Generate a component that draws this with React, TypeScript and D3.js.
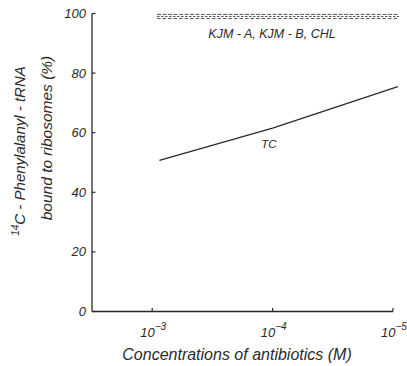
import React from "react";
import * as d3 from "d3";

const yTicks = [0, 20, 40, 60, 80, 100];
const xTickExps = [-3, -4, -5];
const tcLogConc = [-3.06, -4, -5.04];
const tcBound = [50.7, 61.5, 75.5];
const flatLogConc = [-3.04, -5.05];
const kjmA = [99.7, 99.7];
const kjmB = [99.0, 99.0];
const chl = [98.3, 98.3];

const W = 407;
const H = 366;
const FONT = "'Liberation Sans', Arial, sans-serif";
const INK = "#2a2a2a";

export default function App() {
  const x = d3.scaleLinear().domain([-2.5, -5]).range([92, 393]);
  const y = d3.scaleLinear().domain([0, 100]).range([311.5, 13.5]);
  const line = d3
    .line<[number, number]>()
    .x((d) => x(d[0]))
    .y((d) => y(d[1]));

  const tcPts = tcLogConc.map((c, i) => [c, tcBound[i]] as [number, number]);
  const flatSeries = [
    { vals: kjmA, dash: "4 1.5" },
    { vals: kjmB, dash: "2.5 1.5" },
    { vals: chl, dash: "3.5 2" },
  ];

  return (
    <svg
      width={W}
      height={H}
      style={{ position: "absolute", left: 0, top: 0, background: "#fff" }}
    >
      <rect width={W} height={H} fill="#fff" />
      {/* axes */}
      <line x1={x(-2.5)} x2={x(-2.5)} y1={y(0)} y2={y(100)} stroke={INK} strokeWidth={1.3} />
      <line x1={x(-2.5)} x2={x(-5)} y1={y(0)} y2={y(0)} stroke={INK} strokeWidth={1.3} />
      {yTicks.map((t) => (
        <g key={t}>
          <line x1={x(-2.5)} x2={x(-2.5) + 3.5} y1={y(t)} y2={y(t)} stroke={INK} strokeWidth={1.2} />
          <text
            x={86}
            y={y(t)}
            dy="0.35em"
            textAnchor="end"
            fontFamily={FONT}
            fontStyle="italic"
            fontSize={13}
            fill={INK}
          >
            {t}
          </text>
        </g>
      ))}
      {xTickExps.map((e) => (
        <g key={e}>
          <line x1={x(e)} x2={x(e)} y1={y(0)} y2={y(0) - 3.5} stroke={INK} strokeWidth={1.2} />
          <text
            x={x(e) + 1}
            y={337}
            textAnchor="middle"
            fontFamily={FONT}
            fontStyle="italic"
            fontSize={13}
            fill={INK}
          >
            10
            <tspan dy={-7} fontSize={10}>
              {"\u2212" + Math.abs(e)}
            </tspan>
          </text>
        </g>
      ))}
      {/* series */}
      <path d={line(tcPts) || ""} fill="none" stroke={INK} strokeWidth={1.3} />
      {flatSeries.map((s, i) => (
        <path
          key={i}
          d={line(flatLogConc.map((c, j) => [c, s.vals[j]] as [number, number])) || ""}
          fill="none"
          stroke="#555"
          strokeWidth={1}
          strokeDasharray={s.dash}
        />
      ))}
      {/* annotations */}
      <text x={272} y={38} textAnchor="middle" fontFamily={FONT} fontStyle="italic" fontSize={12.5} fill={INK}>
        KJM - A, KJM - B, CHL
      </text>
      <text x={269} y={148} textAnchor="middle" fontFamily={FONT} fontStyle="italic" fontSize={11.5} fill={INK}>
        TC
      </text>
      {/* axis titles */}
      <text x={237} y={360} textAnchor="middle" fontFamily={FONT} fontStyle="italic" fontSize={16} fill={INK}>
        Concentrations of antibiotics  (M)
      </text>
      <text
        transform="translate(25,151) rotate(-90)"
        textAnchor="middle"
        fontFamily={FONT}
        fontStyle="italic"
        fontSize={15}
        fill={INK}
      >
        <tspan fontSize={10} dy={-6}>14</tspan>
        <tspan dy={6}>C - Phenylalanyl - tRNA</tspan>
      </text>
      <text
        transform="translate(52,138) rotate(-90)"
        textAnchor="middle"
        fontFamily={FONT}
        fontStyle="italic"
        fontSize={15.5}
        fill={INK}
      >
        bound to ribosomes (%)
      </text>
    </svg>
  );
}
